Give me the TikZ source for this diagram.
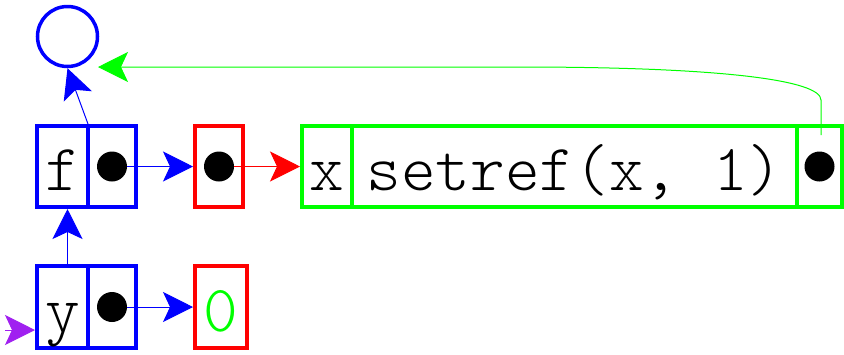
\documentclass[tikz,border=0pt]{standalone}
\usepackage{fontspec}
\setmonofont{Latin Modern Mono Light}
\usetikzlibrary{arrows.meta}
\definecolor{refblue}{RGB}{0,0,255}
\definecolor{refred}{RGB}{255,0,0}
\definecolor{refgreen}{RGB}{0,255,0}
\definecolor{refpurple}{RGB}{160,32,240}
\tikzset{
  cell/.style={draw, rectangle, line width=4pt, inner sep=0pt,
    minimum height=81pt, text height=48pt, text depth=0pt,
    font=\ttfamily\fontsize{66}{68}\selectfont},
  dot/.style={circle, fill=black, minimum size=30pt, inner sep=0pt},
  ptr/.style={line width=1pt, -{Stealth[length=30pt, width=30pt, inset=7pt]}},
}
\begin{document}
\begin{tikzpicture}[x=1pt, y=-1pt]
\useasboundingbox (0,0) rectangle (844,354);

% environment circle
\node[circle, draw=refblue, line width=3.5pt, minimum size=60pt, inner sep=0pt] (circ) at (67.5,36.5) {};

% first binding: f
\node[cell, draw=refblue, minimum width=51pt] (fname) at (62.5,166.5) {f};
\node[cell, draw=refblue, minimum width=48pt] (fptr) at (112,166.5) {};
\node[dot] (fdot) at (fptr.center) {};

\node[cell, draw=refred, minimum width=48pt] (rcell) at (219,166.5) {};
\node[dot] (rdot) at (rcell.center) {};

% closure record
\node[cell, draw=refgreen, minimum width=50pt] (xcell) at (327,166.5) {x};
\node[cell, draw=refgreen, minimum width=445pt] (scell) at (574.5,166.5) {setref(x, 1)};
\node[cell, draw=refgreen, minimum width=45pt] (gcell) at (819.5,166.5) {};
\node[dot] (gdot) at (gcell.center) {};

% second binding: y
\node[cell, draw=refblue, minimum width=51pt, minimum height=82pt] (yname) at (62.5,307) {y};
\node[cell, draw=refblue, minimum width=48pt, minimum height=82pt] (yptr) at (112,307) {};
\node[dot] (ydot) at (yptr.center) {};
\node[cell, draw=refred, minimum width=52pt, minimum height=82pt, text=refgreen] (zcell) at (221,307) {0};

% connectors
\coordinate (entry) at (5,330);
\coordinate (gstart) at (821,135);
\coordinate (gend) at (98,67);

\draw[ptr, refblue] (fdot) -- (rcell.west);
\draw[ptr, refred] (rdot) -- (xcell.west);
\draw[ptr, refblue] (ydot) -- (zcell.west);
\draw[ptr, refblue] (yname.north -| circ) -- (fname.south -| circ);
\draw[ptr, refblue] ([xshift=-2pt]fname.north east) -- (circ.south);
\draw[ptr, refgreen] (gstart) -- (821,100) .. controls (821,80) and (720,67) .. (520,67) -- (gend);
\draw[ptr, refpurple] (entry) -- (entry -| yname.west);
\end{tikzpicture}
\end{document}
